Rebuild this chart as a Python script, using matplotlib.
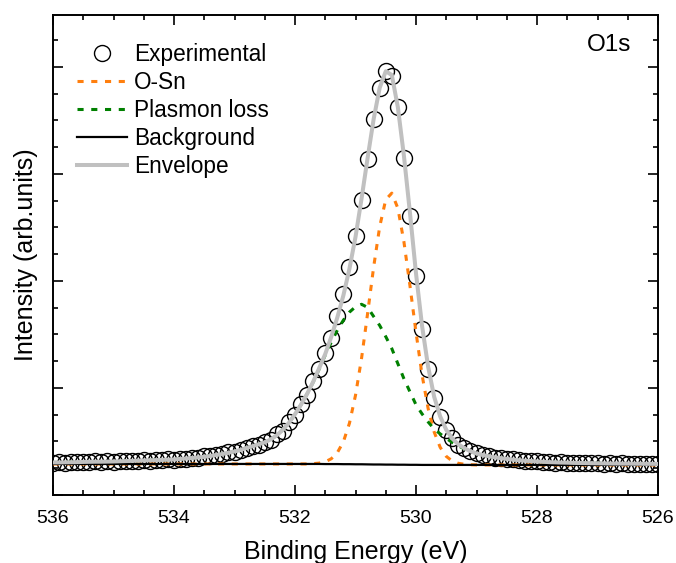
import numpy as np
import matplotlib
matplotlib.use("Agg")
import matplotlib.pyplot as plt
from matplotlib.ticker import MultipleLocator, NullFormatter

plt.rcParams['font.family'] = ['Liberation Sans', 'DejaVu Sans']

# binding energy grid, 0.1 eV steps from 536 to 526 eV
energy = np.linspace(536.0, 526.0, 101)

# measured points (arb. units)
experimental = [
    300, 306, 302, 308, 305, 311, 307, 313, 309, 314,
    311, 318, 315, 322, 318, 326, 322, 330, 326, 334,
    330, 340, 338, 350, 348, 360, 362, 378, 380, 398,
    405, 425, 436, 462, 470, 498, 515, 566, 602, 680,
    748, 850, 935, 1065, 1175, 1330, 1470, 1675, 1880, 2130,
    2420, 2760, 3140, 3510, 3800, 3965, 3916, 3625, 3150, 2610,
    2050, 1555, 1180, 905, 728, 605, 533, 468, 440, 410,
    392, 372, 365, 350, 346, 335, 333, 323, 322, 314,
    315, 308, 309, 303, 305, 300, 302, 297, 299, 295,
    298, 293, 296, 292, 295, 291, 294, 290, 293, 289,
    292,
]

# O-Sn component (on background)
o_sn = [
    290, 290, 290, 290, 290, 290, 290, 290, 290, 290,
    290, 290, 290, 290, 290, 290, 290, 290, 290, 290,
    290, 290, 290, 290, 290, 290, 290, 290, 290, 290,
    290, 290, 290, 290, 290, 290, 290, 290, 290, 290,
    290, 290, 290, 293, 298, 310, 339, 396, 498, 671,
    932, 1278, 1697, 2131, 2509, 2761, 2821, 2680, 2367, 1955,
    1520, 1122, 809, 589, 445, 361, 317, 296, 287, 283,
    281, 281, 281, 281, 281, 281, 281, 281, 281, 281,
    281, 281, 281, 281, 281, 281, 281, 281, 281, 281,
    281, 281, 281, 281, 281, 281, 281, 281, 281, 281,
    281,
]

# plasmon loss component (on background)
plasmon = [
    304, 304, 305, 306, 307, 309, 310, 311, 311, 312,
    313, 315, 317, 319, 321, 323, 325, 326, 328, 330,
    332, 337, 341, 346, 351, 357, 365, 374, 383, 395,
    407, 421, 440, 456, 474, 492, 520, 558, 610, 675,
    755, 845, 945, 1055, 1178, 1308, 1429, 1541, 1634, 1709,
    1759, 1782, 1753, 1668, 1584, 1480, 1368, 1227, 1087, 964,
    843, 758, 683, 617, 571, 529, 491, 459, 431, 407,
    388, 374, 362, 352, 344, 337, 331, 325, 320, 317,
    313, 310, 307, 305, 303, 302, 300, 299, 298, 297,
    296, 295, 294, 294, 293, 293, 292, 292, 291, 291,
    290,
]

# Shirley-type background
background = [
    290, 290, 290, 290, 290, 290, 290, 290, 290, 290,
    290, 290, 290, 290, 290, 290, 290, 290, 290, 290,
    290, 290, 290, 290, 290, 290, 290, 290, 290, 290,
    290, 290, 290, 290, 290, 290, 290, 290, 290, 290,
    290, 290, 290, 290, 290, 289, 289, 289, 288, 288,
    287, 287, 286, 285, 285, 284, 284, 283, 283, 282,
    282, 281, 281, 281, 281, 281, 281, 281, 281, 281,
    281, 281, 281, 281, 281, 281, 281, 281, 281, 281,
    281, 281, 281, 281, 281, 281, 281, 281, 281, 281,
    281, 281, 281, 281, 281, 281, 281, 281, 281, 281,
    281,
]

# fit envelope
envelope = [
    304, 304, 305, 306, 307, 309, 310, 311, 311, 312,
    313, 315, 317, 319, 321, 323, 325, 326, 328, 330,
    332, 337, 341, 346, 351, 357, 365, 374, 383, 395,
    407, 421, 440, 456, 474, 492, 520, 558, 610, 675,
    755, 845, 945, 1058, 1186, 1318, 1479, 1660, 1866, 2115,
    2412, 2770, 3150, 3514, 3806, 3960, 3925, 3624, 3171, 2637,
    2070, 1580, 1200, 918, 733, 609, 527, 474, 437, 409,
    388, 374, 362, 352, 344, 337, 331, 325, 320, 317,
    313, 310, 307, 305, 303, 302, 300, 299, 298, 297,
    296, 295, 294, 294, 293, 293, 292, 292, 291, 291,
    290,
]

fig = plt.figure(figsize=(6.76, 5.63), dpi=100)
ax = fig.add_axes([0.0784, 0.1208, 0.8950, 0.8526])

ax.plot(energy, experimental, 'o', mfc='none', mec='black', mew=1.0, ms=11.5,
        label='Experimental', zorder=2)
ax.plot(energy, o_sn, color='#ff7f0e', lw=2.2, ls=(0, (2, 2.5)), label='O-Sn', zorder=3)
ax.plot(energy, plasmon, color='#008000', lw=2.2, ls=(0, (2, 2.5)), label='Plasmon loss', zorder=3)
ax.plot(energy, background, color='black', lw=1.6, label='Background', zorder=3)
ax.plot(energy, envelope, color='#c0c0c0', lw=2.9, label='Envelope', zorder=4)

ax.set_xlim(536, 526)
ax.set_ylim(0, 4486)
ax.xaxis.set_major_locator(MultipleLocator(2))
ax.xaxis.set_minor_locator(MultipleLocator(0.5))
ax.yaxis.set_major_locator(MultipleLocator(1000))
ax.yaxis.set_minor_locator(MultipleLocator(250))
ax.yaxis.set_major_formatter(NullFormatter())

ax.tick_params(which='both', direction='in', top=True, right=True, width=1.2)
ax.tick_params(which='major', length=7, labelsize=14, pad=11)
ax.tick_params(which='minor', length=3.6)
for s in ax.spines.values():
    s.set_linewidth(1.4)

ax.set_xlabel('Binding Energy (eV)', fontsize=18, labelpad=9)
ax.set_ylabel('Intensity (arb.units)', fontsize=18, labelpad=0)

ax.text(0.955, 0.9375, 'O1s', transform=ax.transAxes, ha='right', va='center', fontsize=17.5)

ax.legend(loc='upper left', bbox_to_anchor=(0.0099, 0.979), frameon=False,
          fontsize=16.3, numpoints=1, handlelength=2.2, handletextpad=0.3,
          labelspacing=0.22, borderaxespad=0.4, borderpad=0.4)

fig.savefig('out.png', dpi=100)
